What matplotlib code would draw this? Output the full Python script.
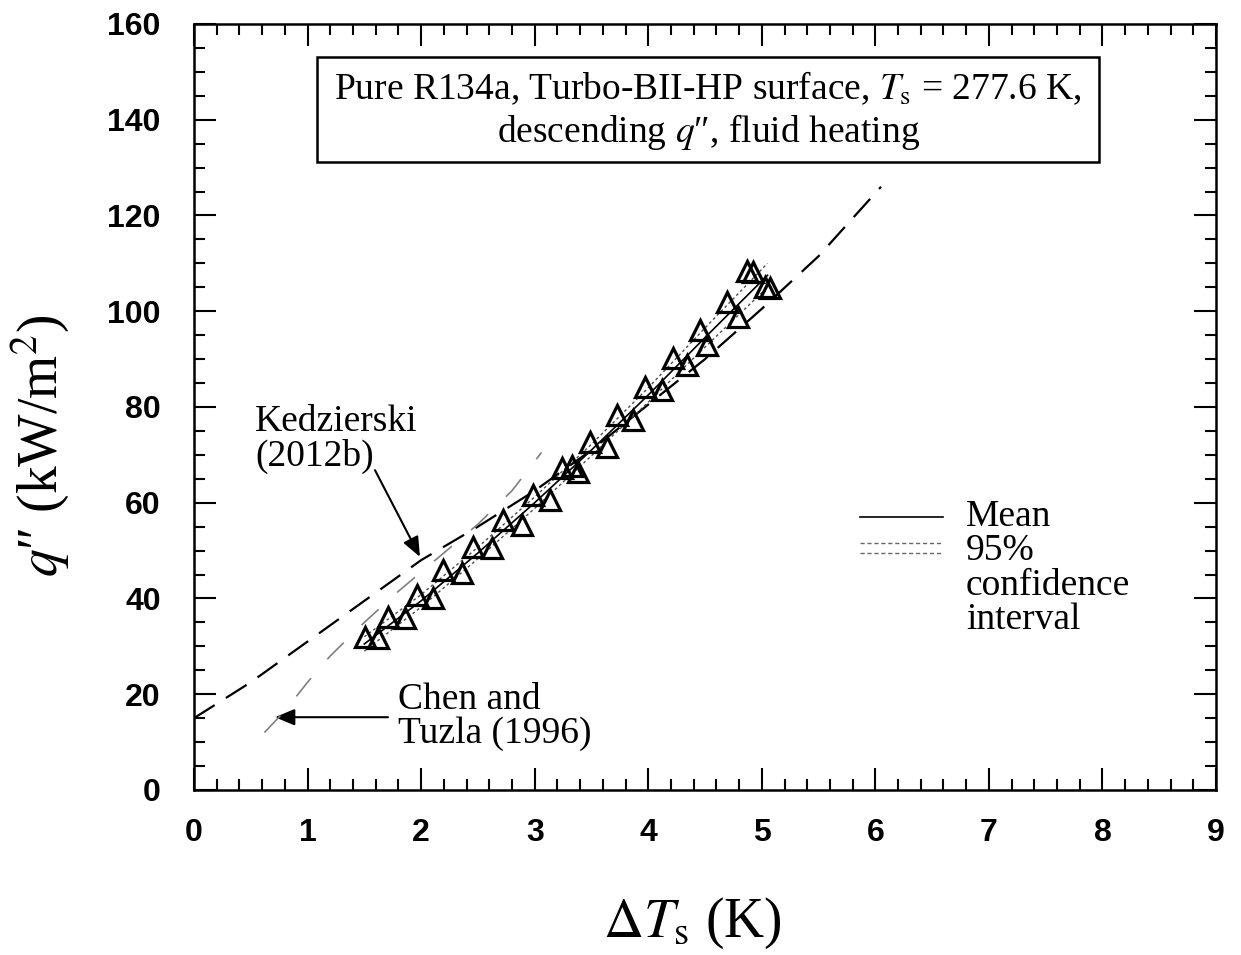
import matplotlib
matplotlib.use('Agg')
import matplotlib.pyplot as plt
from matplotlib.patches import Rectangle, FancyArrowPatch

plt.rcParams['font.family'] = ['Liberation Serif', 'DejaVu Serif']
plt.rcParams['mathtext.fontset'] = 'stix'

# measured points, descending heat flux
dT_meas = [1.506, 1.620, 1.708, 1.858, 1.964, 2.105, 2.193, 2.360, 2.457, 2.624,
           2.721, 2.888, 2.985, 3.135, 3.240, 3.330, 3.380, 3.487, 3.637, 3.725,
           3.866, 3.971, 4.121, 4.218, 4.341, 4.456, 4.517, 4.694, 4.790, 4.870,
           4.922, 5.030, 5.072]
q_meas = [31.96, 31.75, 36.1, 35.9, 40.7, 40.1, 46.0, 45.3, 50.8, 50.5,
          56.4, 55.4, 61.6, 60.6, 67.3, 67.6, 66.4, 72.7, 71.6, 78.3,
          77.3, 84.2, 83.6, 90.2, 88.8, 96.1, 92.9, 101.9, 98.8, 108.3,
          108.2, 105.0, 104.9]

# fitted mean and 95% confidence interval
dT_fit = [1.5, 2.0, 2.5, 3.0, 3.5, 4.0, 4.5, 5.05]
q_mean = [30.5, 39.5, 49.5, 60.0, 71.0, 82.5, 94.5, 107.5]
q_upper = [32.0, 40.8, 50.7, 61.2, 72.2, 84.0, 96.5, 110.0]
q_lower = [29.0, 38.2, 48.3, 58.8, 69.8, 81.0, 92.5, 105.0]

# Kedzierski (2012b)
dT_ked = [0.0, 0.5, 1.0, 1.5, 2.0, 2.5, 3.0, 3.5, 4.0, 4.5, 5.0, 5.5, 6.05]
q_ked = [15.0, 22.5, 31.0, 39.5, 48.0, 55.0, 62.5, 71.0, 80.5, 90.0, 100.5, 111.5, 126.0]

# Chen and Tuzla (1996)
dT_chen = [0.62, 0.8, 1.0, 1.2, 1.5, 1.8, 2.2, 2.5, 2.8, 3.06]
q_chen = [12.0, 16.5, 22.5, 28.0, 35.0, 41.5, 49.5, 55.5, 62.5, 70.5]

xticks = list(range(0, 10))
yticks = list(range(0, 161, 20))

fig = plt.figure(figsize=(12.41, 9.55), dpi=100)
ax = fig.add_axes([0.1563, 0.1728, 0.8236, 0.8021])

ax.plot(dT_ked, q_ked, color='black', lw=1.6, dashes=(11, 6))
ax.plot(dT_chen, q_chen, color='0.5', lw=1.2, dashes=(14, 15))
ax.plot(dT_fit, q_upper, color='0.3', lw=1.0, dashes=(2, 2))
ax.plot(dT_fit, q_lower, color='0.3', lw=1.0, dashes=(2, 2))
ax.plot(dT_fit, q_mean, color='black', lw=1.2)
ax.plot(dT_meas, q_meas, linestyle='none', marker='^', markersize=15,
        markerfacecolor='none', markeredgecolor='black', markeredgewidth=2.3)

ax.set_xlim(0, 9)
ax.set_ylim(0, 160)
ax.set_xticks(xticks)
ax.set_yticks(yticks)
ax.set_xticks([i * 0.2 for i in range(46)], minor=True)
ax.set_yticks(list(range(0, 161, 5)), minor=True)
ax.tick_params(which='both', direction='in', top=True, right=True, width=1.5,
               labelsize=23)
ax.tick_params(which='major', length=16)
ax.tick_params(which='minor', length=8)
ax.tick_params(axis='x', pad=20)
ax.tick_params(axis='y', pad=24)
for lab in ax.get_xticklabels() + ax.get_yticklabels():
    lab.set_family(['Liberation Sans', 'DejaVu Sans'])
    lab.set_fontweight('bold')
for sp in ax.spines.values():
    sp.set_linewidth(1.8)

ax.set_xlabel(r'$\Delta T_\mathrm{s}$ (K)', fontsize=40)
ax.set_ylabel('$q$\u2033 (kW/m$^2$)', fontsize=40)
ax.xaxis.set_label_coords(0.488, -0.138)
ax.yaxis.set_label_coords(-0.12, 0.45)

# title box
ax.add_patch(Rectangle((0.1204, 0.8198), 0.7651, 0.1371, transform=ax.transAxes,
                       fill=False, edgecolor='black', lw=1.8))
ax.text(0.503, 0.9164, r'Pure R134a, Turbo-BII-HP surface, $T_\mathrm{s}$ = 277.6 K,',
        transform=ax.transAxes, ha='center', va='center', fontsize=27)
ax.text(0.503, 0.859, 'descending $q$\u2033, fluid heating',
        transform=ax.transAxes, ha='center', va='center', fontsize=27)

# annotations
ax.text(0.537, 80.5, 'Kedzierski\n(2012b)', ha='left', va='top', fontsize=27,
        linespacing=1.0)
ax.add_patch(FancyArrowPatch((1.594, 66.8), (1.99, 48.7),
                             arrowstyle='-|>,head_length=12,head_width=5',
                             color='black', lw=1.5, shrinkA=0, shrinkB=0))
ax.text(1.796, 22.5, 'Chen and\nTuzla (1996)', ha='left', va='top', fontsize=27,
        linespacing=1.0)
ax.add_patch(FancyArrowPatch((1.708, 15.2), (0.713, 15.2),
                             arrowstyle='-|>,head_length=12,head_width=5',
                             color='black', lw=1.5, shrinkA=0, shrinkB=0))

# legend
ax.plot([0.6517, 0.7329], [0.3564, 0.3564], transform=ax.transAxes,
        color='black', lw=1.2)
ax.plot([0.6517, 0.7329], [0.3225, 0.3225], transform=ax.transAxes,
        color='0.4', lw=1.0, dashes=(3, 2))
ax.plot([0.6517, 0.7329], [0.3094, 0.3094], transform=ax.transAxes,
        color='0.4', lw=1.0, dashes=(3, 2))
ax.text(0.7554, 0.3564, 'Mean', transform=ax.transAxes, ha='left', va='center',
        fontsize=27)
ax.text(0.7554, 0.3345, '95%\nconfidence\ninterval', transform=ax.transAxes,
        ha='left', va='top', fontsize=27, linespacing=1.0)

fig.savefig('out.png', dpi=100)
